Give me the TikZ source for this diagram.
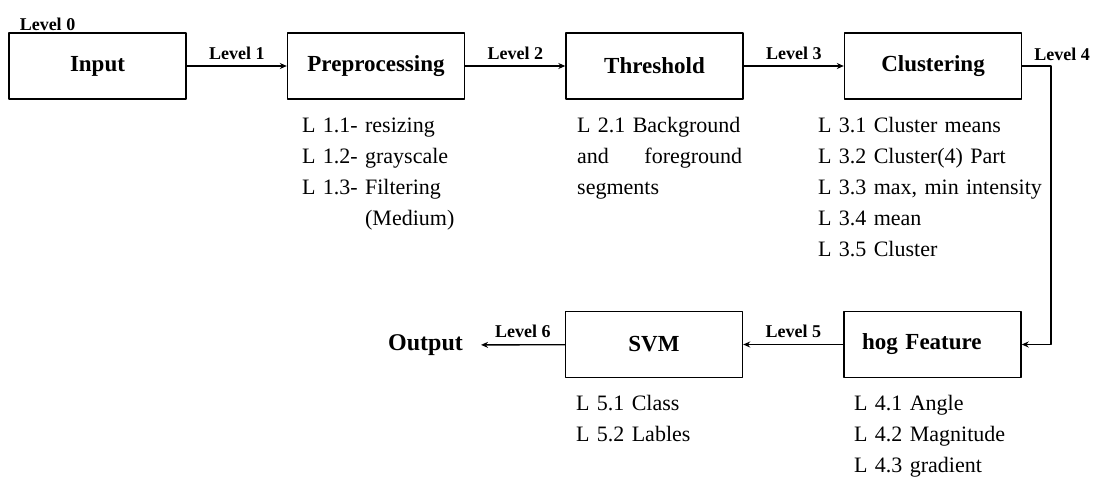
\documentclass[tikz,border=0pt]{standalone}
\usepackage{fontspec}
\setmainfont{Liberation Serif}
\usetikzlibrary{arrows.meta}

\begin{document}
\begin{tikzpicture}[x=1pt, y=-1pt, >={Stealth[length=7pt, width=6pt]}, line join=round, line cap=round,
    box/.style={draw, line width=1.4pt, minimum width=177pt, minimum height=66pt, inner sep=0pt, font=\fontsize{23}{27}\selectfont\bfseries},
    lvl/.style={inner sep=0pt, font=\fontsize{18}{21}\selectfont\bfseries},
    items/.style={anchor=base west, align=left, text width=240pt, inner sep=0pt, font=\fontsize{22}{31.2}\selectfont},
    flow/.style={->, line width=1.4pt}]
    \useasboundingbox (0,0) rectangle (1099,479);

    \node[box] (input) at (97.5,66) {Input};
    \node[box] (pre) at (376,66) {Preprocessing};
    \node[box] (thr) at (654.5,66) {Threshold};
    \node[box] (clu) at (933,66) {Clustering};
    \node[box, text width=141pt, align=left] (hog) at (932.5,344.5) {hog Feature};
    \node[box] (svm) at (654,344.5) {SVM};
    \node[inner xsep=18pt, font=\fontsize{24}{28}\selectfont\bfseries] (out) at (425.5,345) {Output};
    \coordinate (turn) at (1051,66);

    % 各级连线
    \node[lvl] (l0) at (47.5,24) {Level 0};
    \draw[flow] (input) -- (pre) node[lvl, midway, above=6pt] (l1) {Level 1};
    \draw[flow] (pre) -- (thr) node[lvl, midway, above=6pt] (l2) {Level 2};
    \draw[flow] (thr) -- (clu) node[lvl, midway, above=6pt] (l3) {Level 3};
    \draw[flow] (clu) -- (turn) |- (hog.east);
    \node[lvl] (l4) at (1062,54) {Level 4};
    \draw[flow] (hog) -- (svm) node[lvl, midway, above=6pt] (l5) {Level 5};
    \draw[flow] (svm) -- (out) node[lvl, midway, above=6pt] (l6) {Level 6};

    \node[items] (pre-l) at (302,132) {L 1.1- resizing\\L 1.2- grayscale\\L 1.3- Filtering\\\phantom{L 1.3- }(Medium)};
    \node[items, text width=165pt] (thr-l) at (577,132) {L 2.1 Background\\and\hfill foreground\\segments};
    \node[items] (clu-l) at (818,132) {L 3.1 Cluster means\\L 3.2 Cluster(4) Part\\L 3.3 max, min intensity\\L 3.4 mean\\L 3.5 Cluster};
    \node[items] (svm-l) at (576,410) {L 5.1 Class\\L 5.2 Lables};
    \node[items] (hog-l) at (854,410) {L 4.1 Angle\\L 4.2 Magnitude\\L 4.3 gradient};
\end{tikzpicture}
\end{document}
